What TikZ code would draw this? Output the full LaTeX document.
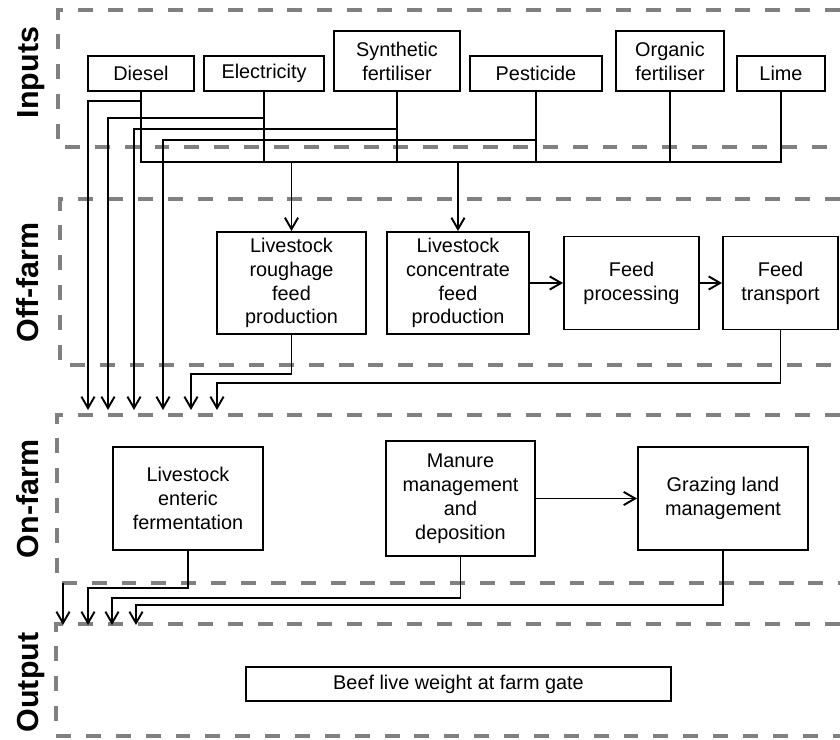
\documentclass[tikz,border=0pt]{standalone}
\usepackage{fontspec}
\setmainfont{Liberation Sans}
\usepackage{xcolor}
\usepackage{tikz}
\usetikzlibrary{arrows.meta, positioning}

\begin{document}
\begin{tikzpicture}[x=0.02cm, y=-0.02cm,
    >={Straight Barb[length=6.5pt, width=7.5pt]},
    box/.style={draw, line width=1.1pt, align=center, inner sep=0pt,
        font=\fontsize{11.3}{13.6}\selectfont},
    frame/.style={draw=gray, line width=2.3pt, dash pattern=on 8.5pt off 8.5pt},
    stage/.style={rotate=90, anchor=base, font=\bfseries\fontsize{17.3}{20}\selectfont},
    link/.style={line width=1.1pt}]
    \useasboundingbox (0,0) rectangle (840,740);

    % Rahmen der Stufen
    \draw[frame] (840,10) -- (58,10) -- (58,147) -- (840,147);
    \draw[frame] (840,199) -- (60,199) -- (60,365) -- (840,365);
    \draw[frame] (840,415) -- (57,415) -- (57,583) -- (840,583);
    \draw[frame] (840,624) -- (56,624) -- (56,736) -- (840,736);

    \node[stage] (inputs) at (38,72.5) {Inputs};
    \node[stage] (offfarm) at (38,282.5) {Off-farm};
    \node[stage] (onfarm) at (38,499) {On-farm};
    \node[stage] (output) at (38,682.5) {Output};

    % Inputs
    \node[box, minimum width=2.12cm, minimum height=0.7cm] (diesel) at (141,73.5) {Diesel};
    \node[box, minimum width=2.4cm, minimum height=0.7cm] (electricity) at (264,73.5) {Electricity};
    \node[box, minimum width=2.52cm, minimum height=1.2cm] (synthetic) at (397,61) {Synthetic\\fertiliser};
    \node[box, minimum width=2.64cm, minimum height=0.7cm] (pesticide) at (536,73.5) {Pesticide};
    \node[box, minimum width=2.16cm, minimum height=1.2cm] (organic) at (670,61) {Organic\\fertiliser};
    \node[box, minimum width=1.76cm, minimum height=0.7cm] (lime) at (781,73.5) {Lime};

    % Off-farm
    \node[box, minimum width=2.98cm, minimum height=2.04cm] (roughage) at (291.5,283) {Livestock\\roughage\\feed\\production};
    \node[box, minimum width=2.84cm, minimum height=2.04cm] (concentrate) at (458,283) {Livestock\\concentrate\\feed\\production};
    \node[box, minimum width=2.7cm, minimum height=1.86cm] (processing) at (631.5,283) {Feed\\processing};
    \node[box, minimum width=2.3cm, minimum height=1.86cm] (transport) at (780.5,283) {Feed\\transport};

    % On-farm
    \node[box, minimum width=3cm, minimum height=2.06cm] (enteric) at (188,498.5) {Livestock\\enteric\\fermentation};
    \node[box, minimum width=2.98cm, minimum height=2.3cm] (manure) at (460.5,498.5) {Manure\\management\\and\\deposition};
    \node[box, minimum width=3.4cm, minimum height=2.06cm] (grazing) at (723,498.5) {Grazing land\\management};

    % Output
    \node[box, minimum width=8.5cm, minimum height=0.68cm] (beef) at (458.5,684) {Beef live weight at farm gate};

    % Pfeilenden
    \coordinate (bus) at (0,162);
    \coordinate (on1) at (88,410);
    \coordinate (on2) at (108,410);
    \coordinate (on3) at (134,410);
    \coordinate (on4) at (163,410);
    \coordinate (on5) at (191,410);
    \coordinate (on6) at (217,410);
    \coordinate (farmout) at (63,583);
    \coordinate (out1) at (63,625);
    \coordinate (out2) at (88,625);
    \coordinate (out3) at (112,625);
    \coordinate (out4) at (136,625);

    % Inputs -> Futter
    \draw[link] (diesel.south) |- (lime.south |- bus) -- (lime.south);
    \foreach \n in {electricity, synthetic, pesticide, organic}
        \draw[link] (\n.south) -- (\n.south |- bus);
    \draw[link, ->] (roughage.north |- bus) -- (roughage.north);
    \draw[link, ->] (concentrate.north |- bus) -- (concentrate.north);

    % Inputs -> On-farm
    \draw[link, ->] (diesel.south |- 0,101) -| (on1);
    \draw[link, ->] (electricity.south |- 0,118) -| (on2);
    \draw[link, ->] (synthetic.south |- 0,129) -| (on3);
    \draw[link, ->] (pesticide.south |- 0,140) -| (on4);

    % Off-farm
    \draw[link, ->] (concentrate) -- (processing);
    \draw[link, ->] (processing) -- (transport);
    \draw[link, ->] (roughage.south) -- ++(0,39) -| (on5);
    \draw[link, ->] (transport.south) -- ++(0,53) -| (on6);

    % On-farm -> Output
    \draw[link, ->] (manure) -- (grazing);
    \draw[link, ->] (farmout) -- (out1);
    \draw[link, ->] (enteric.south) -- ++(0,37) -| (out2);
    \draw[link, ->] (manure.south) -- ++(0,41) -| (out3);
    \draw[link, ->] (grazing.south) -- ++(0,54) -| (out4);
\end{tikzpicture}
\end{document}
